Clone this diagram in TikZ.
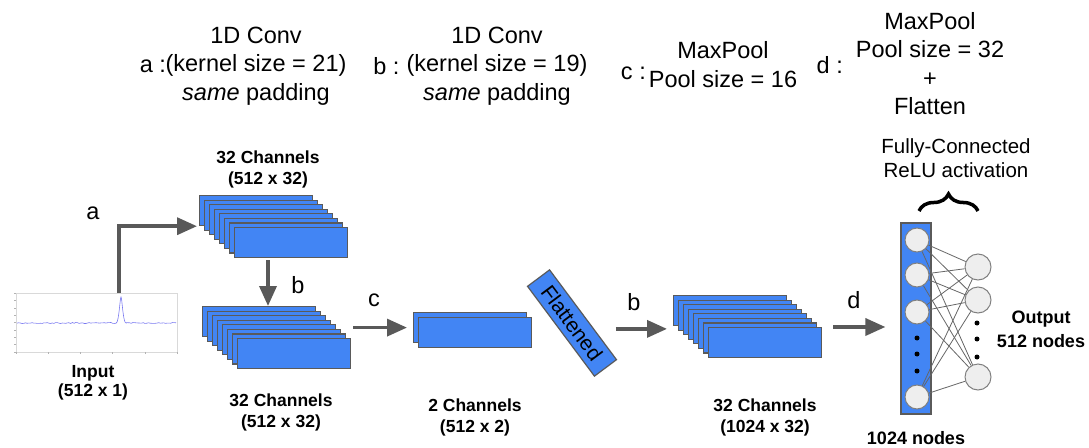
\documentclass[tikz,border=0pt]{standalone}
\usepackage{fontspec}
\setmainfont{Liberation Sans}
\usetikzlibrary{positioning,arrows.meta,decorations.pathreplacing}

\definecolor{chanblue}{HTML}{4285F4}
\definecolor{edgegray}{HTML}{5A5A5A}
\definecolor{arrgray}{HTML}{595959}
\definecolor{nodegray}{HTML}{EEEEEE}
\definecolor{wiregray}{HTML}{666666}
\definecolor{sigblue}{HTML}{7878F0}

\begin{document}
\begin{tikzpicture}[x=1pt,y=-1pt,node distance=0pt,
	big/.style={font=\fontsize{23.5}{28.5}\selectfont,align=center},
	chanlbl/.style={font=\fontsize{17.5}{21}\selectfont\bfseries,align=center},
	chan/.style={draw=edgegray,fill=chanblue,line width=1.2pt,anchor=north west,
		minimum width=113pt,minimum height=30pt,inner sep=0pt},
	arr/.style={draw=arrgray,line width=3.5pt,-{Triangle[length=20pt,width=17pt]}},
	neuron/.style={circle,draw=gray,fill=nodegray,line width=1pt,inner sep=0pt},
	wire/.style={draw=wiregray,line width=0.8pt}]

\useasboundingbox (0,0) rectangle (1089,447);
\pgfmathsetseed{7}

% layer descriptions
\node[big] (la) at (256,66) {1D Conv\\(kernel size = 21)\\\textit{same} padding};
\node[big,left=-7.5pt of la] (la-key) {a :};
\node[big] (lb) at (497,66) {1D Conv\\(kernel size = 19)\\\textit{same} padding};
\node[big,left=0pt of lb] (lb-key) {b :};
\node[big] (lc) at (723,64.5) {MaxPool\\Pool size = 16};
\node[big,left=-4pt of lc,yshift=-9pt] (lc-key) {c :};
\node[big] (ld) at (930,63.5) {MaxPool\\Pool size = 32\\+\\Flatten};
\node[big,left=6pt of ld,yshift=-2pt] (ld-key) {d :};

% input signal
\node[draw=black!15,minimum width=161pt,minimum height=59pt,inner sep=0pt,anchor=north west] (input) at (16,293) {};
\foreach \t in {0,...,8}
	\draw[black!30,line width=0.4pt] (16,{293+\t*59/8}) -- ++(-2,0);
\foreach \t in {0,...,5}
	\draw[black!30,line width=0.4pt] ({16+\t*161/5},352) -- ++(0,2);
\draw[sigblue,line width=0.6pt] plot[domain=17:116,samples=60] (\x,{323+0.5*rand})
	.. controls (119,323) and (120,297) .. (121,297)
	.. controls (122,297) and (123,323) .. (126,323)
	-- plot[domain=126:176,samples=30] (\x,{323+0.5*rand});
\node[chanlbl,font=\fontsize{17.5}{19.5}\selectfont\bfseries] (in-lbl) at (93,383) {Input\\(512 x 1)};

% channel stacks
\foreach \s/\x/\y/\n in {s1/199/195/8,s2/202/306/8,s3/413/312/2,s4/673/295/8}
	\foreach \i in {1,...,\n}
		\node[chan] (\s-\i) at ({\x+5*(\i-1)},{\y+4.57*(\i-1)}) {};

\node[chanlbl] (s1-lbl) at (268,169.5) {32 Channels\\(512 x 32)};
\node[chanlbl] (s2-lbl) at (281,412) {32 Channels\\(512 x 32)};
\node[chanlbl] (s3-lbl) at (475,417) {2 Channels\\(512 x 2)};
\node[chanlbl] (s4-lbl) at (765,417) {32 Channels\\(1024 x 32)};

\node[draw=edgegray,fill=chanblue,line width=1.2pt,minimum width=112pt,minimum height=27.5pt,
	inner sep=0pt,rotate=-53.3,font=\fontsize{21}{21}\selectfont] (flat) at (572,323) {Flattened};

% dense layers
\node[draw=edgegray,fill=chanblue,line width=1.2pt,minimum width=30pt,minimum height=191pt,inner sep=0pt] (col) at (916,318.5) {};
\foreach \n/\y in {1/240,2/275,3/312,4/397}
	\node[neuron,minimum size=24pt] (h\n) at (917,\y) {};
\foreach \n/\y in {1/267,2/300,3/377}
	\node[neuron,minimum size=26pt] (o\n) at (978,\y) {};
\foreach \h in {1,...,4}
	\foreach \o in {1,...,3}
		\draw[wire] (h\h) -- (o\o);
\foreach \y in {338,354,371}
	\fill (917,\y) circle (2.5pt);
\foreach \y in {323,339,357}
	\fill (977,\y) circle (2.5pt);

\draw[line width=3.5pt,decorate,decoration={brace,amplitude=17pt}] (919,211) -- (978,211);
\node[font=\fontsize{20.5}{24}\selectfont,align=center] (fc-lbl) at (956,158) {Fully-Connected\\ReLU activation};
\node[chanlbl,font=\fontsize{18}{24}\selectfont\bfseries] (out-lbl) at (1041,329) {Output\\512 nodes};
\node[chanlbl,font=\fontsize{18}{18}\selectfont\bfseries] (col-lbl) at (916,438) {1024 nodes};

% connectors
\draw[arr,shorten >=2pt] ([xshift=103pt]input.north west) |- (s1-1.south west);
\draw[arr,shorten <=2pt] ([xshift=34pt]s1-8.south west) -- ([xshift=66pt]s2-1.north west);
\draw[arr,shorten <=2pt,shorten >=6pt] (s2-8.east |- s3-1.west) -- (s3-1.west);
\draw[arr,shorten >=6pt] ([xshift=10pt]flat.east |- s4-5.west) -- (s4-1.west |- s4-5.west);
\draw[arr,shorten >=15pt] ([xshift=11pt]s4-8.north east) -- (col.west |- s4-8.north east);

\node[big] (a-lbl) at (93,213) {a};
\node[big] (b-lbl) at (298,285) {b};
\node[big] (c-lbl) at (374,300) {c};
\node[big] (b2-lbl) at (634,302) {b};
\node[big] (d-lbl) at (854,300) {d};

\end{tikzpicture}
\end{document}
